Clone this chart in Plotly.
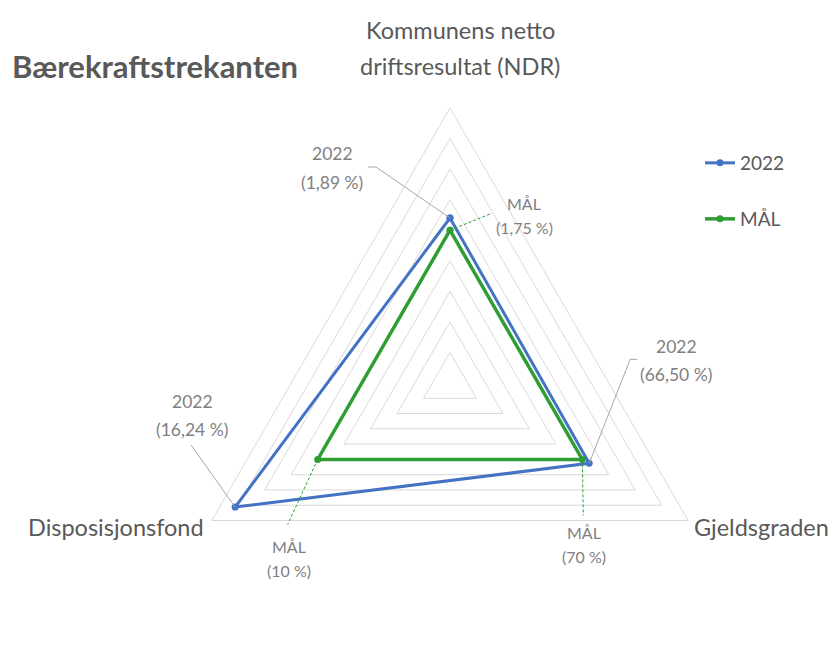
import math
import plotly.graph_objects as go

W, H = 838, 650

# ---------------- data ----------------
categories = ["Kommunens netto driftsresultat (NDR)", "Gjeldsgraden", "Disposisjonsfond"]
axis_label_lines = [["Kommunens netto", "driftsresultat (NDR)"], ["Gjeldsgraden"], ["Disposisjonsfond"]]
series_names = ["2022", "MÅL"]
values_2022 = [5.40, 5.26, 8.12]   # score on a 0-9 scale
values_maal = [5.00, 5.00, 5.00]
pct_2022 = ["(1,89 %)", "(66,50 %)", "(16,24 %)"]
pct_maal = ["(1,75 %)", "(70 %)", "(10 %)"]
grid_max = 9

# ---------------- style ----------------
BLUE = "#4472C4"
GREEN = "#2E9E34"
GRID = "#D9D9D9"
DARK = "#595959"
LABEL = "#7F7F7F"
LEADER = "#A6A6A6"
FONT = "Lato"

CX, CY, R = 442, 375, 275
angles = [90, -30, -150]  # rotation 90, clockwise, 3 categories


def to_px(val, i):
    a = math.radians(angles[i])
    s = val / grid_max * R
    return CX + s * math.cos(a), CY - s * math.sin(a)


def pp(x, y):
    return x / W, 1 - y / H


fig = go.Figure()
fig.add_trace(go.Scatterpolar(
    r=values_2022 + values_2022[:1], theta=categories + categories[:1],
    mode="lines+markers", name=series_names[0], legend="legend",
    line=dict(color=BLUE, width=3), marker=dict(color=BLUE, size=7),
    cliponaxis=False, hoverinfo="skip"))
fig.add_trace(go.Scatterpolar(
    r=values_maal + values_maal[:1], theta=categories + categories[:1],
    mode="lines+markers", name=series_names[1], legend="legend2",
    line=dict(color=GREEN, width=3.5), marker=dict(color=GREEN, size=7),
    cliponaxis=False, hoverinfo="skip"))

annotations = []
shapes = []


def text(x, y, s, size, color=LABEL, xanchor="center"):
    X, Y = pp(x, y)
    annotations.append(dict(x=X, y=Y, xref="paper", yref="paper", text=s, showarrow=False,
                            xanchor=xanchor, yanchor="middle",
                            font=dict(family=FONT, size=size, color=color)))


def leader(points, color, dash=None):
    path = "M " + " L ".join(f"{pp(x, y)[0]:.5f},{pp(x, y)[1]:.5f}" for x, y in points)
    line = dict(color=color, width=1)
    if dash:
        line["dash"] = dash
    shapes.append(dict(type="path", xref="paper", yref="paper", path=path, line=line, layer="above"))


# title
text(2, 58, "<b>Bærekraftstrekanten</b>", 31, DARK, "left")

# axis labels
text(CX + 10, 22, axis_label_lines[0][0], 23.5, DARK)
text(CX + 10, 58, axis_label_lines[0][1], 23.5, DARK)
bx, by = to_px(grid_max, 1)
text(bx + 4, by + 6, axis_label_lines[1][0], 23.5, DARK, "left")
lx, ly = to_px(grid_max, 2)
text(lx - 6, ly + 6, axis_label_lines[2][0], 23.5, DARK, "right")

# data labels 2022 (label offsets relative to the point)
off_2022 = [(-118, -64, -35, [(-74, -51), (-82, -51)]),
            (87, -117, -89, [(41, -104), (48, -104)]),
            (-43, -106, -78, [(-44, -62)])]
for i, (dx, dy1, dy2, lead) in enumerate(off_2022):
    x, y = to_px(values_2022[i], i)
    text(x + dx, y + dy1, series_names[0], 17.5)
    text(x + dx, y + dy2, pct_2022[i], 17.5)
    leader([(x, y)] + [(x + a, y + b) for a, b in lead], LEADER)

off_maal = [(74, -27, -3, [(42, -17)]),
            (2, 73, 97, [(1, 56)]),
            (-29, 87, 111, [(-30, 65)])]
for i, (dx, dy1, dy2, lead) in enumerate(off_maal):
    x, y = to_px(values_maal[i], i)
    text(x + dx, y + dy1, series_names[1], 16)
    text(x + dx, y + dy2, pct_maal[i], 16)
    leader([(x, y)] + [(x + a, y + b) for a, b in lead], GREEN, "3px,2px")

fig.update_layout(
    width=W, height=H,
    margin=dict(l=0, r=0, t=0, b=0),
    paper_bgcolor="white",
    showlegend=True,
    polar=dict(
        domain=dict(x=[(CX - R) / W, (CX + R) / W], y=[max(0, 1 - (CY + R) / H), 1 - (CY - R) / H]),
        gridshape="linear",
        bgcolor="white",
        radialaxis=dict(range=[0, grid_max], tick0=0, dtick=1, showticklabels=False, ticks="",
                        showline=False, gridcolor=GRID, gridwidth=1),
        angularaxis=dict(rotation=90, direction="clockwise", showticklabels=False, ticks="",
                         showgrid=False, showline=True, linecolor=GRID, linewidth=1),
    ),
    legend=dict(x=692 / W, y=1 - 155 / H, xanchor="left", yanchor="middle", bgcolor="rgba(0,0,0,0)",
                font=dict(family=FONT, size=19, color=DARK), itemwidth=30),
    legend2=dict(x=692 / W, y=1 - 211 / H, xanchor="left", yanchor="middle", bgcolor="rgba(0,0,0,0)",
                 font=dict(family=FONT, size=19, color=DARK), itemwidth=30),
    annotations=annotations,
    shapes=shapes,
)

fig.write_html("out.html")
